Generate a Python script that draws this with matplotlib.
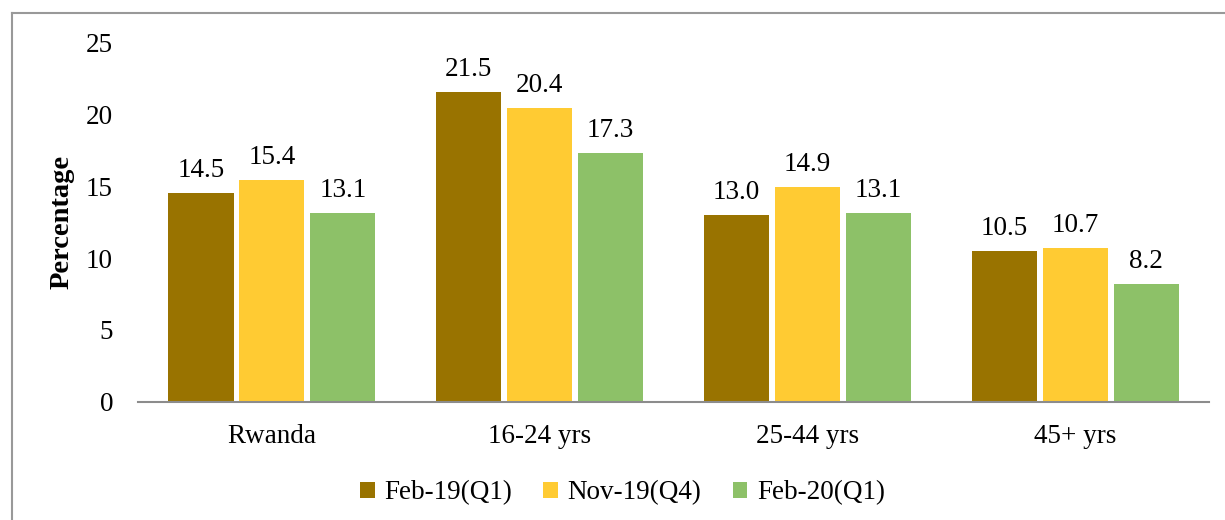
import matplotlib.pyplot as plt
import numpy as np

# Data
categories = ['Rwanda', '16-24 yrs', '25-44 yrs', '45+ yrs']
series_names = ['Feb-19(Q1)', 'Nov-19(Q4)', 'Feb-20(Q1)']
feb19 = [14.5, 21.5, 13.0, 10.5]
nov19 = [15.4, 20.4, 14.9, 10.7]
feb20 = [13.1, 17.3, 13.1, 8.2]

colors = ['#997300', '#ffcb33', '#8dc168']
font = 'Liberation Serif'
fs = 19.5

plt.rcParams['font.family'] = font

fig = plt.figure(figsize=(12.25, 5.2), dpi=100)
ax = fig.add_axes([0.1127, 0.227, 0.987 - 0.1127, 0.919 - 0.227])

x = np.arange(len(categories))
width = 0.243
step = 0.265
values = [feb19, nov19, feb20]
for i, (vals, name) in enumerate(zip(values, series_names)):
    pos = x + (i - 1) * step
    bars = ax.bar(pos, vals, width, color=colors[i], label=name, zorder=2)
    for b, v in zip(bars, vals):
        ax.text(b.get_x() + b.get_width() / 2, v + 0.7, '%.1f' % v,
                ha='center', va='bottom', fontsize=fs)

ax.set_xlim(-0.5, len(categories) - 0.5)
ax.set_ylim(0, 25)
ax.set_yticks(range(0, 26, 5))
ax.set_xticks(x)
ax.set_xticklabels(categories)
ax.tick_params(axis='both', length=0, labelsize=fs)
ax.tick_params(axis='y', pad=18)
ax.tick_params(axis='x', pad=16)
for s in ['top', 'right', 'left']:
    ax.spines[s].set_visible(False)
ax.spines['bottom'].set_color('#8c8c8c')
ax.spines['bottom'].set_linewidth(1.5)

ax.set_ylabel('Percentage', fontsize=20.5, fontweight='bold', labelpad=8)

leg = fig.legend(loc='center', bbox_to_anchor=(0.508, 0.052), ncol=3,
                 frameon=False, fontsize=fs, handlelength=0.55,
                 handleheight=0.55, handletextpad=0.35, columnspacing=1.15)

# outer chart border (left and top visible)
fig.add_artist(plt.Line2D([0.0098, 0.0098], [0, 0.975], color='#999999',
                          lw=1.5, transform=fig.transFigure))
fig.add_artist(plt.Line2D([0.0098, 1.0], [0.975, 0.975], color='#999999',
                          lw=1.5, transform=fig.transFigure))

fig.savefig('out.png', dpi=100)
